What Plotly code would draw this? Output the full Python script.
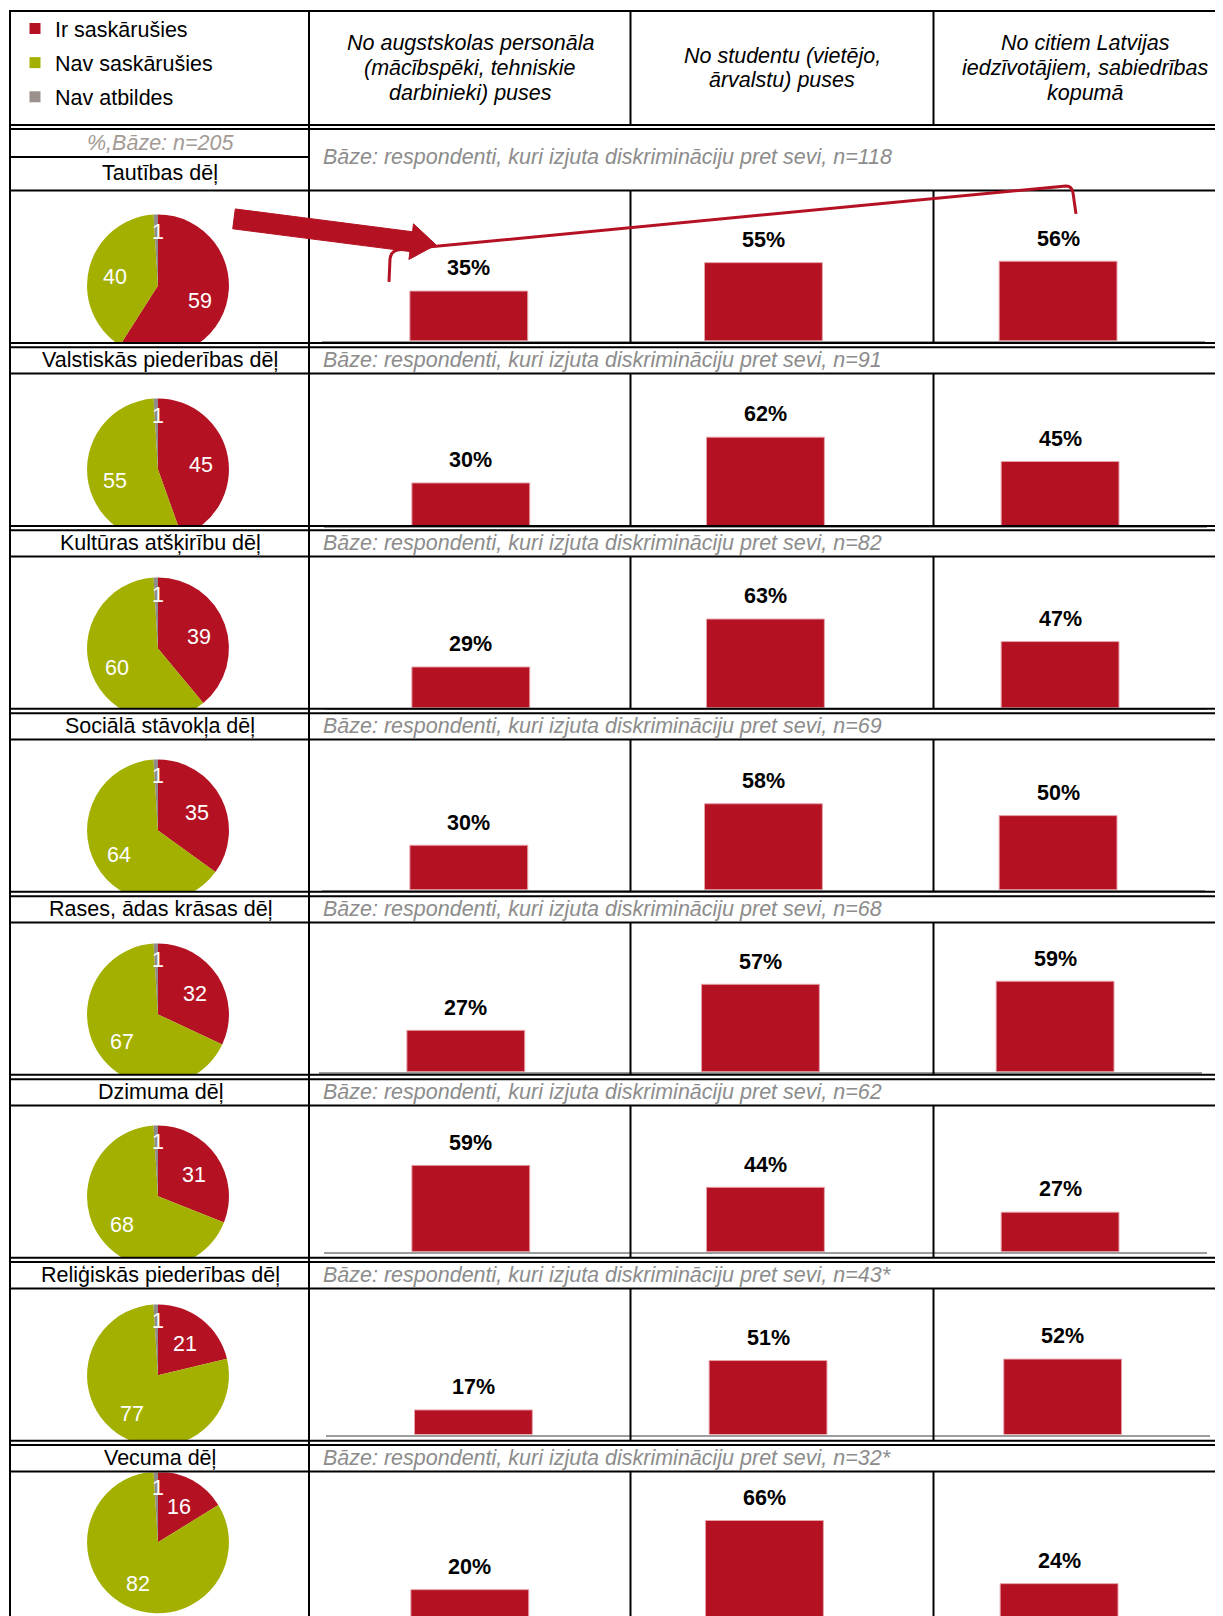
import plotly.graph_objects as go
import math

# ---------------- data ----------------
categories = ["Tautības dēļ", "Valstiskās piederības dēļ", "Kultūras atšķirību dēļ",
              "Sociālā stāvokļa dēļ", "Rases, ādas krāsas dēļ", "Dzimuma dēļ",
              "Reliģiskās piederības dēļ", "Vecuma dēļ"]
pie_labels = ["Ir saskārušies", "Nav saskārušies", "Nav atbildes"]
pie_ir = [59, 45, 39, 35, 32, 31, 21, 16]
pie_nav = [40, 55, 60, 64, 67, 68, 77, 82]
pie_na = [1, 1, 1, 1, 1, 1, 1, 1]
pie_base = "%,Bāze: n=205"

source_lines = [["No augstskolas personāla", "(mācībspēki, tehniskie", "darbinieki) puses"],
                ["No studentu (vietējo,", "ārvalstu) puses"],
                ["No citiem Latvijas", "iedzīvotājiem, sabiedrības", "kopumā"]]
bar_staff = [35, 30, 29, 30, 27, 59, 17, 20]
bar_students = [55, 62, 63, 58, 57, 44, 51, 66]
bar_society = [56, 45, 47, 50, 59, 27, 52, 24]
base_n = ["118", "91", "82", "69", "68", "62", "43*", "32*"]

# ---------------- layout constants (page pixels) ----------------
W, H = 1223, 1616
OFF = 8  # page body margin
FONT = "Liberation Sans, Arial, sans-serif"
FS = 21.5
RED = "#B41223"
GREEN = "#A3B000"
GREY = "#8F8B88"
LEG_GREY = "#9B918C"
TXT_GREY = "#8C8C8C"

T0, STEP = 189.6, 183.1
row_top = [T0 + STEP * k for k in range(8)]
baseline_off = [150.4, 152.5, 151.5, 150.4, 149.4, 146.3, 146.3, 148.4]
px_per_pct = [1.422, 1.432, 1.411, 1.484, 1.535, 1.463, 1.453, 1.504]
x_shift = [0, 2, 2, 0, -3, 2, 4.6, 1]
pie_cy_off = [95, 96, 92, 91, 92, 91, 87, 71]
PIE_CX, PIE_R = 158, 71
COL_X = [10, 309, 630.5, 933.5]
COL_CENTER = [470, 782, 1085]
PLOT_X0, PLOT_X1 = 321.5, 1205.4
DBL1, DBL2 = 152.5, 156.8


def fx(x):
    return (x - OFF) / W


def fy(y):
    return 1 - (y - OFF) / H


fig = go.Figure()
layout = {}
annotations = []

for k in range(8):
    ax = "" if k == 0 else str(k + 1)
    T = row_top[k]
    vals = [bar_staff[k], bar_students[k], bar_society[k]]
    fig.add_trace(go.Bar(x=[0, 1, 2], y=vals, width=0.4,
                         marker=dict(color=RED, line=dict(color="#E6A3AA", width=1)),
                         xaxis="x" + ax, yaxis="y" + ax, showlegend=False, hoverinfo="skip"))
    base_y = T + baseline_off[k]
    top_y = T + 4
    bottom_px = min(base_y, H)
    s = px_per_pct[k]
    layout["xaxis" + ax] = dict(domain=[fx(PLOT_X0 + x_shift[k]), fx(PLOT_X1 + x_shift[k])],
                                range=[-0.5, 2.5], showline=base_y <= H, linecolor="#9D9D9D",
                                linewidth=2, showticklabels=False, ticks="", showgrid=False,
                                zeroline=False, anchor="y" + ax, fixedrange=True)
    layout["yaxis" + ax] = dict(domain=[fy(bottom_px), fy(top_y)],
                                range=[(base_y - bottom_px) / s, (base_y - top_y) / s],
                                visible=False, anchor="x" + ax, fixedrange=True)
    for i, v in enumerate(vals):
        annotations.append(dict(x=i, y=v, xref="x" + ax, yref="y" + ax, text=f"<b>{v}%</b>",
                                showarrow=False, yshift=22.7, yanchor="middle",
                                font=dict(size=FS, color="black", family=FONT)))

    cy = T + pie_cy_off[k]
    pvals = [pie_ir[k], pie_nav[k], pie_na[k]]
    fig.add_trace(go.Pie(values=pvals, labels=pie_labels,
                         sort=False, direction="clockwise", rotation=0,
                         marker=dict(colors=[RED, GREEN, GREY], line=dict(width=0)),
                         textinfo="none",
                         domain=dict(x=[fx(PIE_CX - PIE_R), fx(PIE_CX + PIE_R)],
                                     y=[fy(cy + PIE_R), fy(cy - PIE_R)]),
                         showlegend=False, hoverinfo="skip"))
    # slice value labels at the slice mid-angle
    tot = sum(pvals)
    cum = 0
    for v in pvals:
        frac = v / tot
        a = 2 * math.pi * (cum + frac / 2)
        cum += frac
        small = frac < 0.03
        rf = 0.76 if small else 0.62
        lx = PIE_CX + rf * PIE_R * math.sin(a) + (2 if small else 0)
        ly_ = cy - rf * PIE_R * math.cos(a) + (0 if small else 3)
        annotations.append(dict(x=fx(lx), y=fy(ly_), xref="paper", yref="paper", text=str(v),
                                showarrow=False, xanchor="center", yanchor="middle",
                                font=dict(size=FS, color="white", family=FONT)))

    # row label and base text
    ly = 172 if k == 0 else T - 13.6
    by = 156 if k == 0 else T - 13.6
    annotations.append(dict(x=fx(160), y=fy(ly), xref="paper", yref="paper", text=categories[k],
                            showarrow=False, xanchor="center", yanchor="middle",
                            font=dict(size=FS, color="black", family=FONT)))
    annotations.append(dict(x=fx(320.5), y=fy(by), xref="paper", yref="paper",
                            text=f"<i>Bāze: respondenti, kuri izjuta diskrimināciju pret sevi, n={base_n[k]}</i>",
                            showarrow=False, xanchor="left", yanchor="middle",
                            font=dict(size=FS, color=TXT_GREY, family=FONT)))

# legend entries
for lab, col in zip(pie_labels, [RED, GREEN, LEG_GREY]):
    fig.add_trace(go.Scatter(x=[None], y=[None], mode="markers", name=lab, legendgroup=lab,
                             marker=dict(symbol="square", size=11, color=col),
                             xaxis="x", yaxis="y", hoverinfo="skip"))

# header texts
for c, lines in enumerate(source_lines):
    n = len(lines)
    for j, line in enumerate(lines):
        yy = 67 + (j - (n - 1) / 2) * 24.7
        annotations.append(dict(x=fx(COL_CENTER[c]), y=fy(yy), xref="paper", yref="paper",
                                text=f"<i>{line}</i>", showarrow=False, xanchor="center",
                                yanchor="middle", font=dict(size=FS, color="black", family=FONT)))
annotations.append(dict(x=fx(160), y=fy(142), xref="paper", yref="paper", text=f"<i>{pie_base}</i>",
                        showarrow=False, xanchor="center", yanchor="middle",
                        font=dict(size=FS, color="#A39A94", family=FONT)))

# ---------------- shapes ----------------
shapes = []


def rect(x0, y0, x1, y1, color="white"):
    shapes.append(dict(type="rect", xref="paper", yref="paper", x0=fx(x0), x1=fx(x1),
                       y0=fy(y1), y1=fy(y0), fillcolor=color, line=dict(width=0), layer="above"))


def hline(y, x0=COL_X[0], x1=W + OFF, w=2):
    shapes.append(dict(type="line", xref="paper", yref="paper", x0=fx(x0), x1=fx(x1),
                       y0=fy(y), y1=fy(y), line=dict(color="black", width=w), layer="above"))


def vline(x, y0, y1, w=2):
    shapes.append(dict(type="line", xref="paper", yref="paper", x0=fx(x), x1=fx(x),
                       y0=fy(y0), y1=fy(y1), line=dict(color="black", width=w), layer="above"))


# white masks clipping pies at the row bottom
for k in range(7):
    rect(COL_X[0] + 1, row_top[k] + DBL1, COL_X[1] - 1, row_top[k + 1] + 1)

hline(10)
hline(124)
hline(128)
hline(156, COL_X[0], COL_X[1])
for k in range(8):
    T = row_top[k]
    hline(T)
    if T + DBL2 < H:
        hline(T + DBL1)
        hline(T + DBL2)
    for x in COL_X[2:]:
        vline(x, T, min(T + DBL1, H + OFF))
vline(COL_X[0], 9, H + OFF)
vline(COL_X[1], 9, H + OFF)
for x in COL_X[2:]:
    vline(x, 9, 124)

# thick arrow from the pie to the first bar
sx, sy, tx, ty = 234, 218, 436, 244
L = math.hypot(tx - sx, ty - sy)
dx, dy = (tx - sx) / L, (ty - sy) / L
nx, ny = -dy, dx
hw, hh, hl = 10, 18, 25
bx, by_ = tx - dx * hl, ty - dy * hl
pts = [(sx - nx * hw, sy - ny * hw), (bx - nx * hw, by_ - ny * hw), (bx - nx * hh, by_ - ny * hh),
       (tx, ty), (bx + nx * hh, by_ + ny * hh), (bx + nx * hw, by_ + ny * hw),
       (sx + nx * hw, sy + ny * hw)]
path = "M " + " L ".join(f"{fx(px):.5f},{fy(py):.5f}" for px, py in pts) + " Z"
shapes.append(dict(type="path", xref="paper", yref="paper", path=path, fillcolor=RED,
                   line=dict(color=RED, width=1), layer="above"))

# thin bracket line
br = [("M", 389, 281), ("L", 390, 258), ("Q", 391, 250, 399, 249), ("L", 1066, 185),
      ("Q", 1072, 185, 1073, 192), ("L", 1076, 213)]
parts = []
for seg in br:
    cmd = seg[0]
    coords = seg[1:]
    cs = " ".join(f"{fx(coords[i]):.5f},{fy(coords[i + 1]):.5f}" for i in range(0, len(coords), 2))
    parts.append(f"{cmd} {cs}")
shapes.append(dict(type="path", xref="paper", yref="paper", path=" ".join(parts),
                   line=dict(color=RED, width=3), layer="above"))

fig.update_layout(
    width=W, height=H, margin=dict(l=0, r=0, t=0, b=0),
    paper_bgcolor="white", plot_bgcolor="rgba(0,0,0,0)",
    font=dict(family=FONT, size=FS, color="black"),
    bargap=0.6, showlegend=True,
    legend=dict(x=fx(15), y=fy(6.5), xanchor="left", yanchor="top", bgcolor="rgba(0,0,0,0)",
                font=dict(size=FS, family=FONT, color="black"), tracegroupgap=3.2,
                itemclick=False, itemdoubleclick=False),
    annotations=annotations, shapes=shapes,
    **layout,
)

fig.write_html("out.html")
